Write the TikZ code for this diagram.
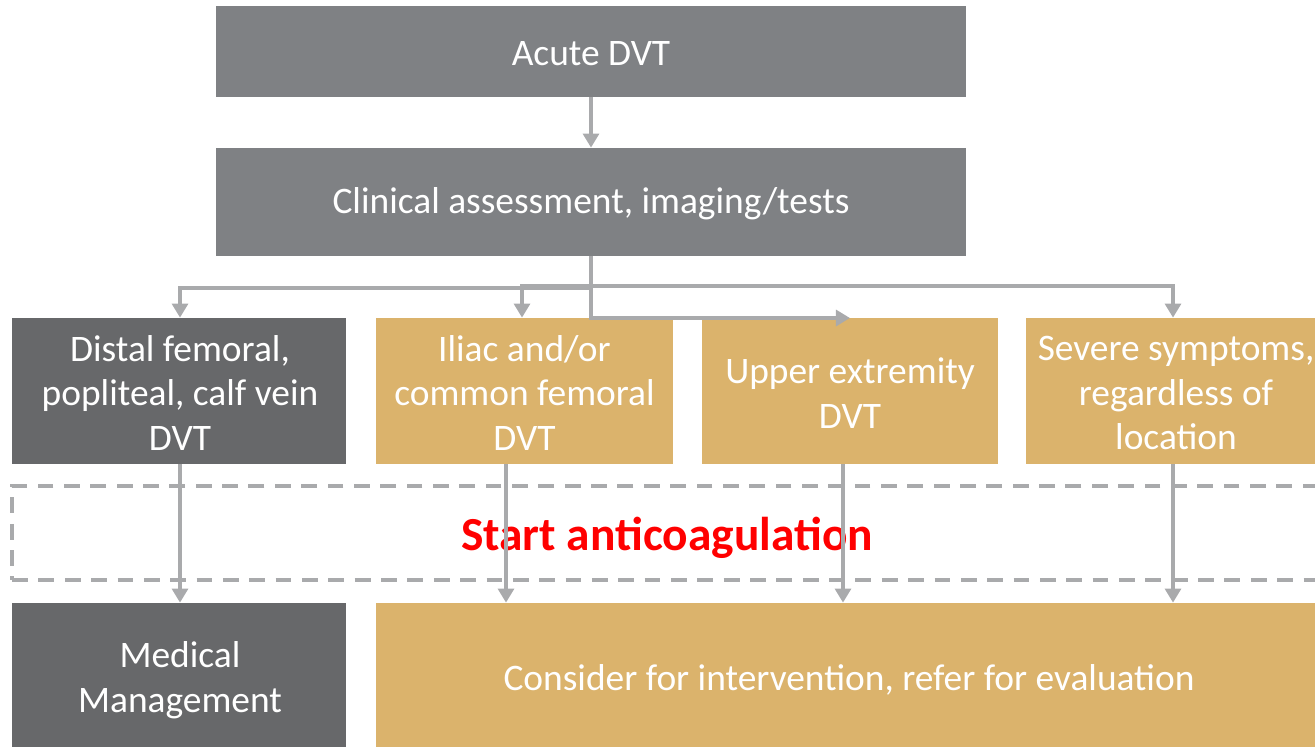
\documentclass[tikz,border=0pt]{standalone}
\usepackage{fontspec}
\setmainfont{Carlito}
\usetikzlibrary{arrows.meta}
\definecolor{topgray}{HTML}{7F8184}
\definecolor{darkgray}{HTML}{67686A}
\definecolor{tan}{HTML}{DBB36C}
\definecolor{lgray}{HTML}{A9AAAC}
\tikzset{
  box/.style={fill=#1, draw=none, text=white, align=center, inner sep=0pt,
    font=\fontsize{21.3}{25.5}\selectfont},
  label/.style={text=white, align=center, inner sep=0pt, font=\fontsize{21.3}{25.5}\selectfont},
  arr/.style={draw=lgray, line width=2.3pt, -{Triangle[width=9pt,length=8pt]}},
  dashbox/.style={draw=lgray, line width=2pt, dash pattern=on 9pt off 6pt},
}
\begin{document}
\begin{tikzpicture}[x=0.02cm, y=-0.02cm]
\useasboundingbox (0,0) rectangle (1315,747);
\clip (0,0) rectangle (1315,747);
\node[box=topgray, minimum width=15cm, minimum height=1.82cm] (acute) at (591,51.5) {};
\node[label] (acutetext) at (591,54) {Acute DVT};
\node[box=topgray, minimum width=15cm, minimum height=2.16cm] (clin) at (591,202) {};
\node[label] (clintext) at (591,204) {Clinical assessment, imaging/tests};
\node[box=darkgray, minimum width=6.68cm, minimum height=2.92cm] (distal) at (179,391) {};
\node[label] (distaltext) at (180,393) {Distal femoral,\\popliteal, calf vein\\DVT};
\node[box=tan, minimum width=5.94cm, minimum height=2.92cm] (iliac) at (524.5,391) {};
\node[label] (iliactext) at (524.5,393) {Iliac and/or\\common femoral\\DVT};
\node[box=tan, minimum width=5.92cm, minimum height=2.92cm] (upper) at (850,391) {};
\node[label] (uppertext) at (850,393) {Upper extremity\\DVT};
\node[box=tan, minimum width=6.08cm, minimum height=2.92cm] (severe) at (1178,391) {};
\node[label] (severetext) at (1176,393) {Severe symptoms,\\regardless of\\location};
\node[dashbox, minimum width=26.36cm, minimum height=1.88cm] (anti) at (671,533) {};
\node[text=red, inner sep=0pt, font=\fontsize{27}{30}\selectfont\bfseries] (antitext) at (667,538) {Start anticoagulation};
\node[box=darkgray, minimum width=6.68cm, minimum height=2.94cm] (med) at (179,676.5) {};
\node[label] (medtext) at (180,680) {Medical\\Management};
\node[box=tan, minimum width=19.08cm, minimum height=2.94cm] (cons) at (853,676.5) {};
\node[label] (constext) at (849,680) {Consider for intervention, refer for evaluation};
% connector coordinates
\coordinate (c1) at (180,0);
\coordinate (c2) at (506,0);
\coordinate (c3) at (843,0);
\coordinate (c4) at (1173,0);
\coordinate (b1) at (522,0);
\coordinate (hl) at (0,288);
\coordinate (hu) at (0,286);
\coordinate (rt) at (850,318);
\draw[arr] (acute.south) -- (clin.north);
\draw[arr] (clin.south) -- (clin.south |- hl) -| (distal.north -| c1);
\draw[arr] (clin.south |- hu) -| (iliac.north -| b1);
\draw[arr] (clin.south |- hu) -| (severe.north -| c4);
\draw[arr] (clin.south |- hl) -- (clin.south |- rt) -- (rt);
\draw[arr] (distal.south -| c1) -- (med.north -| c1);
\draw[arr] (iliac.south -| c2) -- (cons.north -| c2);
\draw[arr] (upper.south -| c3) -- (cons.north -| c3);
\draw[arr] (severe.south -| c4) -- (cons.north -| c4);
\end{tikzpicture}
\end{document}
